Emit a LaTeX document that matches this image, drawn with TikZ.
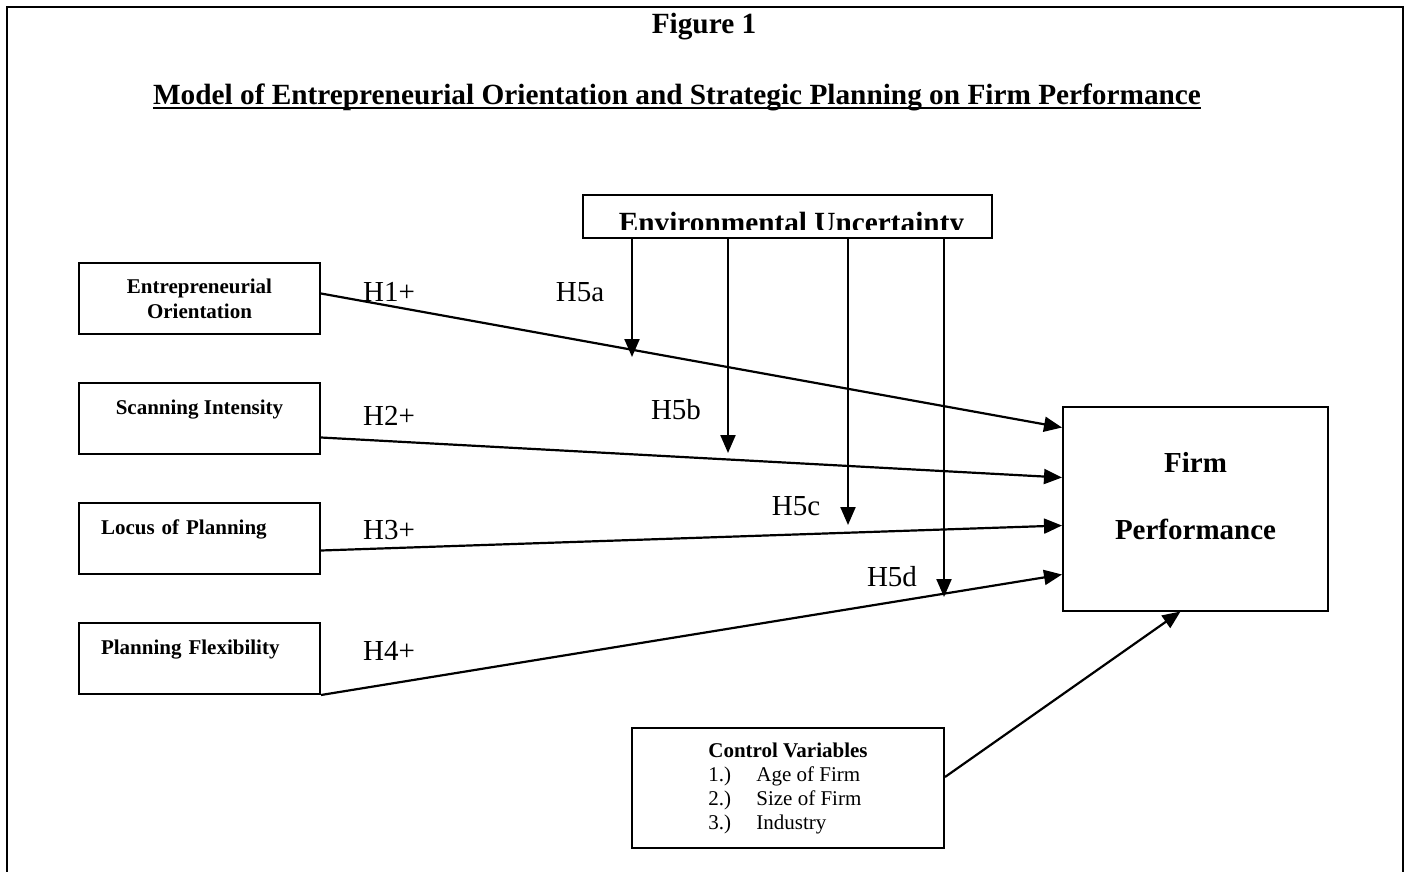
\documentclass[tikz,border=0pt]{standalone}
\usepackage{fontspec}
\setmainfont{Liberation Serif}
\usetikzlibrary{arrows.meta,positioning,calc}

\tikzset{
  box/.style={draw,line width=2pt,rectangle,inner sep=0pt},
  varbox/.style={box,minimum width=241pt,minimum height=71pt,font=\fontsize{21}{25}\selectfont\bfseries},
  toptext/.style={text height=15pt,text depth=23pt},
  head/.style={font=\fontsize{29.3}{34}\selectfont\bfseries},
  hyp/.style={font=\fontsize{29}{34}\selectfont},
  arr/.style={-{Triangle[length=18pt,width=15pt]},line width=2.2pt},
}

\begin{document}
\begin{tikzpicture}[x=1pt,y=-1pt,node distance=120pt]
  \useasboundingbox (0,0) rectangle (1406,872);
  % frame, open at the bottom
  \draw[line width=2.5pt] (7,872) -- (7,7) -- (1403,7) -- (1403,872);

  \node[head] (fig) at (704,27) {Figure 1};
  \node[head,inner sep=0pt,anchor=base] (title) at (677,104.6)
    {Model of Entrepreneurial Orientation and Strategic Planning on Firm Performance};
  \draw[line width=2pt] ([yshift=-3pt]title.base west) -- ([yshift=-3pt]title.base east);

  % predictors
  \node[varbox,align=center] (eo) at (199.5,298.5) {Entrepreneurial\\Orientation};
  \node[varbox,toptext,below of=eo] (si) {Scanning Intensity};
  \node[varbox,toptext,text width=197pt,align=left,inner xsep=22pt,below of=si] (lop) {Locus of Planning};
  \node[varbox,toptext,text width=197pt,align=left,inner xsep=22pt,below of=lop] (pf) {Planning Flexibility};

  % outcome
  \node[box,minimum width=265pt,minimum height=204pt] (fp) at (1195.5,508.5) {};
  \node[font=\fontsize{29}{67}\selectfont\bfseries,align=center] (fptext) at ([yshift=12pt]fp.center) {Firm\\Performance};

  % moderator (text is cut by its box)
  \begin{scope}
    \clip (583,195) rectangle (992,229);
    \node[head,anchor=base] (envtext) at (791.5,232) {Environmental Uncertainty};
  \end{scope}
  \node[box,minimum width=409pt,minimum height=43pt] (env) at (787.5,216.5) {};

  % controls
  \node[box,minimum width=312pt,minimum height=120pt,align=left,font=\fontsize{21}{24}\selectfont] (cv) at (788,788)
    {\textbf{Control Variables}\\\makebox[48pt][l]{1.)}Age of Firm\\\makebox[48pt][l]{2.)}Size of Firm\\\makebox[48pt][l]{3.)}Industry};

  \coordinate (h5a) at (632,357);
  \coordinate (h5b) at (728,453);
  \coordinate (h5c) at (848,525);
  \coordinate (h5d) at (944,597);

  \draw[arr] ([yshift=5pt]eo.east) -- ([yshift=-22pt]fp.north west);
  \draw[arr] ([yshift=-19pt]si.east) -- ([yshift=-72pt]fp.north west);
  \draw[arr] ([yshift=-12pt]lop.east) -- ([yshift=-120pt]fp.north west);
  \draw[arr] (pf.south east) -- ([yshift=-169pt]fp.north west);
  \draw[arr] ([yshift=11pt]cv.east) -- ([xshift=-15pt]fp.south);
  \foreach \h in {h5a,h5b,h5c,h5d}
    \draw[arr] (env.south -| \h) -- (\h);

  \node[hyp] (h1) at (389,292) {H1+};
  \node[hyp] (h2) at (389,416) {H2+};
  \node[hyp] (h3) at (389,530) {H3+};
  \node[hyp] (h4) at (389,651) {H4+};
  \node[hyp] (l5a) at (580,292) {H5a};
  \node[hyp] (l5b) at (676,410) {H5b};
  \node[hyp] (l5c) at (796,506) {H5c};
  \node[hyp] (l5d) at (892,577) {H5d};
\end{tikzpicture}
\end{document}
